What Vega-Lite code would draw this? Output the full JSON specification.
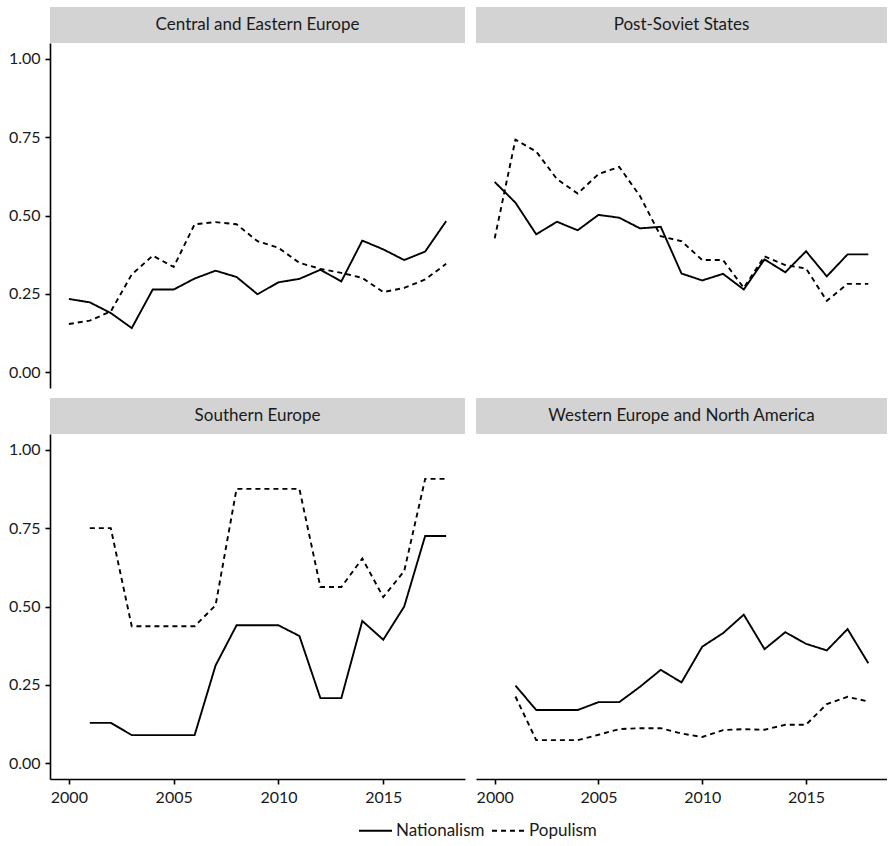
{
  "$schema": "https://vega.github.io/schema/vega-lite/v6.json",
  "padding": {"left": 8, "top": 7, "right": 0, "bottom": 0},
  "background": "white",
  "datasets": {
    "series": [
      {"region": "Central and Eastern Europe", "year": 2000, "Nationalism": 0.234, "Populism": 0.154},
      {"region": "Central and Eastern Europe", "year": 2001, "Nationalism": 0.223, "Populism": 0.165},
      {"region": "Central and Eastern Europe", "year": 2002, "Nationalism": 0.189, "Populism": 0.194},
      {"region": "Central and Eastern Europe", "year": 2003, "Nationalism": 0.141, "Populism": 0.312},
      {"region": "Central and Eastern Europe", "year": 2004, "Nationalism": 0.264, "Populism": 0.372},
      {"region": "Central and Eastern Europe", "year": 2005, "Nationalism": 0.264, "Populism": 0.336},
      {"region": "Central and Eastern Europe", "year": 2006, "Nationalism": 0.299, "Populism": 0.472},
      {"region": "Central and Eastern Europe", "year": 2007, "Nationalism": 0.324, "Populism": 0.479},
      {"region": "Central and Eastern Europe", "year": 2008, "Nationalism": 0.304, "Populism": 0.472},
      {"region": "Central and Eastern Europe", "year": 2009, "Nationalism": 0.249, "Populism": 0.418},
      {"region": "Central and Eastern Europe", "year": 2010, "Nationalism": 0.287, "Populism": 0.397},
      {"region": "Central and Eastern Europe", "year": 2011, "Nationalism": 0.298, "Populism": 0.349},
      {"region": "Central and Eastern Europe", "year": 2012, "Nationalism": 0.327, "Populism": 0.330},
      {"region": "Central and Eastern Europe", "year": 2013, "Nationalism": 0.290, "Populism": 0.317},
      {"region": "Central and Eastern Europe", "year": 2014, "Nationalism": 0.420, "Populism": 0.301},
      {"region": "Central and Eastern Europe", "year": 2015, "Nationalism": 0.392, "Populism": 0.256},
      {"region": "Central and Eastern Europe", "year": 2016, "Nationalism": 0.358, "Populism": 0.269},
      {"region": "Central and Eastern Europe", "year": 2017, "Nationalism": 0.385, "Populism": 0.296},
      {"region": "Central and Eastern Europe", "year": 2018, "Nationalism": 0.482, "Populism": 0.346},
      {"region": "Post-Soviet States", "year": 2000, "Nationalism": 0.607, "Populism": 0.427},
      {"region": "Post-Soviet States", "year": 2001, "Nationalism": 0.541, "Populism": 0.742},
      {"region": "Post-Soviet States", "year": 2002, "Nationalism": 0.440, "Populism": 0.704},
      {"region": "Post-Soviet States", "year": 2003, "Nationalism": 0.480, "Populism": 0.616},
      {"region": "Post-Soviet States", "year": 2004, "Nationalism": 0.453, "Populism": 0.570},
      {"region": "Post-Soviet States", "year": 2005, "Nationalism": 0.502, "Populism": 0.632},
      {"region": "Post-Soviet States", "year": 2006, "Nationalism": 0.493, "Populism": 0.655},
      {"region": "Post-Soviet States", "year": 2007, "Nationalism": 0.459, "Populism": 0.562},
      {"region": "Post-Soviet States", "year": 2008, "Nationalism": 0.464, "Populism": 0.434},
      {"region": "Post-Soviet States", "year": 2009, "Nationalism": 0.315, "Populism": 0.418},
      {"region": "Post-Soviet States", "year": 2010, "Nationalism": 0.293, "Populism": 0.358},
      {"region": "Post-Soviet States", "year": 2011, "Nationalism": 0.314, "Populism": 0.358},
      {"region": "Post-Soviet States", "year": 2012, "Nationalism": 0.264, "Populism": 0.269},
      {"region": "Post-Soviet States", "year": 2013, "Nationalism": 0.360, "Populism": 0.370},
      {"region": "Post-Soviet States", "year": 2014, "Nationalism": 0.319, "Populism": 0.342},
      {"region": "Post-Soviet States", "year": 2015, "Nationalism": 0.386, "Populism": 0.331},
      {"region": "Post-Soviet States", "year": 2016, "Nationalism": 0.306, "Populism": 0.228},
      {"region": "Post-Soviet States", "year": 2017, "Nationalism": 0.376, "Populism": 0.282},
      {"region": "Post-Soviet States", "year": 2018, "Nationalism": 0.376, "Populism": 0.282},
      {"region": "Southern Europe", "year": 2001, "Nationalism": 0.129, "Populism": 0.750},
      {"region": "Southern Europe", "year": 2002, "Nationalism": 0.129, "Populism": 0.750},
      {"region": "Southern Europe", "year": 2003, "Nationalism": 0.090, "Populism": 0.437},
      {"region": "Southern Europe", "year": 2004, "Nationalism": 0.090, "Populism": 0.437},
      {"region": "Southern Europe", "year": 2005, "Nationalism": 0.090, "Populism": 0.437},
      {"region": "Southern Europe", "year": 2006, "Nationalism": 0.090, "Populism": 0.437},
      {"region": "Southern Europe", "year": 2007, "Nationalism": 0.312, "Populism": 0.504},
      {"region": "Southern Europe", "year": 2008, "Nationalism": 0.440, "Populism": 0.875},
      {"region": "Southern Europe", "year": 2009, "Nationalism": 0.440, "Populism": 0.875},
      {"region": "Southern Europe", "year": 2010, "Nationalism": 0.440, "Populism": 0.875},
      {"region": "Southern Europe", "year": 2011, "Nationalism": 0.406, "Populism": 0.875},
      {"region": "Southern Europe", "year": 2012, "Nationalism": 0.208, "Populism": 0.562},
      {"region": "Southern Europe", "year": 2013, "Nationalism": 0.208, "Populism": 0.562},
      {"region": "Southern Europe", "year": 2014, "Nationalism": 0.454, "Populism": 0.653},
      {"region": "Southern Europe", "year": 2015, "Nationalism": 0.394, "Populism": 0.530},
      {"region": "Southern Europe", "year": 2016, "Nationalism": 0.500, "Populism": 0.613},
      {"region": "Southern Europe", "year": 2017, "Nationalism": 0.725, "Populism": 0.907},
      {"region": "Southern Europe", "year": 2018, "Nationalism": 0.725, "Populism": 0.907},
      {"region": "Western Europe and North America", "year": 2001, "Nationalism": 0.248, "Populism": 0.213},
      {"region": "Western Europe and North America", "year": 2002, "Nationalism": 0.170, "Populism": 0.074},
      {"region": "Western Europe and North America", "year": 2003, "Nationalism": 0.170, "Populism": 0.074},
      {"region": "Western Europe and North America", "year": 2004, "Nationalism": 0.170, "Populism": 0.074},
      {"region": "Western Europe and North America", "year": 2005, "Nationalism": 0.195, "Populism": 0.091},
      {"region": "Western Europe and North America", "year": 2006, "Nationalism": 0.195, "Populism": 0.109},
      {"region": "Western Europe and North America", "year": 2007, "Nationalism": 0.244, "Populism": 0.112},
      {"region": "Western Europe and North America", "year": 2008, "Nationalism": 0.298, "Populism": 0.112},
      {"region": "Western Europe and North America", "year": 2009, "Nationalism": 0.258, "Populism": 0.095},
      {"region": "Western Europe and North America", "year": 2010, "Nationalism": 0.372, "Populism": 0.084},
      {"region": "Western Europe and North America", "year": 2011, "Nationalism": 0.415, "Populism": 0.106},
      {"region": "Western Europe and North America", "year": 2012, "Nationalism": 0.474, "Populism": 0.109},
      {"region": "Western Europe and North America", "year": 2013, "Nationalism": 0.364, "Populism": 0.107},
      {"region": "Western Europe and North America", "year": 2014, "Nationalism": 0.418, "Populism": 0.123},
      {"region": "Western Europe and North America", "year": 2015, "Nationalism": 0.381, "Populism": 0.123},
      {"region": "Western Europe and North America", "year": 2016, "Nationalism": 0.360, "Populism": 0.189},
      {"region": "Western Europe and North America", "year": 2017, "Nationalism": 0.428, "Populism": 0.212},
      {"region": "Western Europe and North America", "year": 2018, "Nationalism": 0.319, "Populism": 0.197}
    ]
  },
  "vconcat": [
    {
      "hconcat": [
        {
          "vconcat": [
            {
              "width": 415, "height": 36,
              "view": {"fill": "#d3d3d3", "stroke": null},
              "data": {"values": [{"region": "Central and Eastern Europe"}]},
              "mark": {"type": "text", "fontSize": 17, "color": "#1a1a1a", "baseline": "middle", "align": "center"},
              "encoding": {"text": {"field": "region"}}
            },
            {
              "width": 415, "height": 345,
              "data": {"name": "series"},
              "transform": [
                {"filter": "datum.region === 'Central and Eastern Europe'"},
                {"fold": ["Nationalism", "Populism"], "as": ["measure", "value"]}
              ],
              "mark": {"type": "line", "color": "black", "strokeWidth": 1.9},
              "encoding": {
                "x": {"field": "year", "type": "quantitative", "scale": {"domain": [1999.1, 2018.9], "nice": false, "zero": false}, "axis": null},
                "y": {"field": "value", "type": "quantitative", "scale": {"domain": [-0.05, 1.05], "nice": false}, "axis": {"title": null, "values": [0, 0.25, 0.5, 0.75, 1], "format": ".2f"}},
                "strokeDash": {"field": "measure", "type": "nominal", "scale": {"domain": ["Nationalism", "Populism"], "range": [[1, 0], [5, 4]]}, "title": null}
              }
            }
          ],
          "spacing": 0
        },
        {
          "vconcat": [
            {
              "width": 411, "height": 36,
              "view": {"fill": "#d3d3d3", "stroke": null},
              "data": {"values": [{"region": "Post-Soviet States"}]},
              "mark": {"type": "text", "fontSize": 17, "color": "#1a1a1a", "baseline": "middle", "align": "center"},
              "encoding": {"text": {"field": "region"}}
            },
            {
              "width": 411, "height": 345,
              "data": {"name": "series"},
              "transform": [
                {"filter": "datum.region === 'Post-Soviet States'"},
                {"fold": ["Nationalism", "Populism"], "as": ["measure", "value"]}
              ],
              "mark": {"type": "line", "color": "black", "strokeWidth": 1.9},
              "encoding": {
                "x": {"field": "year", "type": "quantitative", "scale": {"domain": [1999.1, 2018.9], "nice": false, "zero": false}, "axis": null},
                "y": {"field": "value", "type": "quantitative", "scale": {"domain": [-0.05, 1.05], "nice": false}, "axis": null},
                "strokeDash": {"field": "measure", "type": "nominal", "scale": {"domain": ["Nationalism", "Populism"], "range": [[1, 0], [5, 4]]}, "title": null}
              }
            }
          ],
          "spacing": 0
        }
      ],
      "spacing": 11
    },
    {
      "hconcat": [
        {
          "vconcat": [
            {
              "width": 415, "height": 36,
              "view": {"fill": "#d3d3d3", "stroke": null},
              "data": {"values": [{"region": "Southern Europe"}]},
              "mark": {"type": "text", "fontSize": 17, "color": "#1a1a1a", "baseline": "middle", "align": "center"},
              "encoding": {"text": {"field": "region"}}
            },
            {
              "width": 415, "height": 345,
              "data": {"name": "series"},
              "transform": [
                {"filter": "datum.region === 'Southern Europe'"},
                {"fold": ["Nationalism", "Populism"], "as": ["measure", "value"]}
              ],
              "mark": {"type": "line", "color": "black", "strokeWidth": 1.9},
              "encoding": {
                "x": {"field": "year", "type": "quantitative", "scale": {"domain": [1999.1, 2018.9], "nice": false, "zero": false}, "axis": {"title": null, "values": [2000, 2005, 2010, 2015], "format": "d"}},
                "y": {"field": "value", "type": "quantitative", "scale": {"domain": [-0.05, 1.05], "nice": false}, "axis": {"title": null, "values": [0, 0.25, 0.5, 0.75, 1], "format": ".2f"}},
                "strokeDash": {"field": "measure", "type": "nominal", "scale": {"domain": ["Nationalism", "Populism"], "range": [[1, 0], [5, 4]]}, "title": null}
              }
            }
          ],
          "spacing": 0
        },
        {
          "vconcat": [
            {
              "width": 411, "height": 36,
              "view": {"fill": "#d3d3d3", "stroke": null},
              "data": {"values": [{"region": "Western Europe and North America"}]},
              "mark": {"type": "text", "fontSize": 17, "color": "#1a1a1a", "baseline": "middle", "align": "center"},
              "encoding": {"text": {"field": "region"}}
            },
            {
              "width": 411, "height": 345,
              "data": {"name": "series"},
              "transform": [
                {"filter": "datum.region === 'Western Europe and North America'"},
                {"fold": ["Nationalism", "Populism"], "as": ["measure", "value"]}
              ],
              "mark": {"type": "line", "color": "black", "strokeWidth": 1.9},
              "encoding": {
                "x": {"field": "year", "type": "quantitative", "scale": {"domain": [1999.1, 2018.9], "nice": false, "zero": false}, "axis": {"title": null, "values": [2000, 2005, 2010, 2015], "format": "d"}},
                "y": {"field": "value", "type": "quantitative", "scale": {"domain": [-0.05, 1.05], "nice": false}, "axis": null},
                "strokeDash": {"field": "measure", "type": "nominal", "scale": {"domain": ["Nationalism", "Populism"], "range": [[1, 0], [5, 4]]}, "title": null}
              }
            }
          ],
          "spacing": 0
        }
      ],
      "spacing": 11
    }
  ],
  "spacing": 10,
  "config": {
    "font": "Lato",
    "view": {"stroke": null},
    "axis": {
      "grid": false,
      "domainColor": "black",
      "domainWidth": 1.6,
      "tickColor": "black",
      "tickWidth": 1.6,
      "tickSize": 5,
      "labelFont": "Lato",
      "labelFontSize": 16,
      "labelColor": "#1a1a1a",
      "labelPadding": 5
    },
    "legend": {
      "orient": "none",
      "legendX": 308,
      "legendY": 806,
      "direction": "horizontal",
      "symbolType": "stroke",
      "symbolSize": 1089,
      "symbolStrokeColor": "black",
      "symbolStrokeWidth": 1.9,
      "labelFont": "Lato",
      "labelFontSize": 17,
      "labelColor": "#1a1a1a",
      "labelOffset": 3,
      "columnPadding": 3
    }
  }
}
